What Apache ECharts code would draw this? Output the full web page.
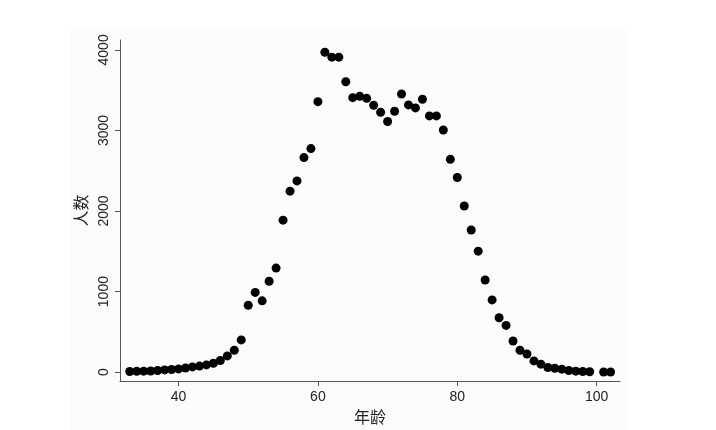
<!DOCTYPE html>
<html>
<head>
<meta charset="utf-8">
<script src="https://cdn.jsdelivr.net/npm/echarts@6/dist/echarts.min.js"></script>
<style>
html,body{margin:0;padding:0;background:#fff;}
#chart{width:716px;height:430px;}
</style>
</head>
<body>
<div id="chart"></div>
<script>
var ages = [33,34,35,36,37,38,39,40,41,42,43,44,45,46,47,48,49,50,51,52,53,54,55,56,57,58,59,60,61,62,63,64,65,66,67,68,69,70,71,72,73,74,75,76,77,78,79,80,81,82,83,84,85,86,87,88,89,90,91,92,93,94,95,96,97,98,99,101,102];
var counts = [8,10,12,15,20,28,33,40,52,65,75,90,110,144,202,272,400,830,990,885,1128,1292,1887,2247,2374,2663,2775,3358,3971,3910,3910,3605,3407,3424,3399,3313,3226,3111,3239,3453,3317,3280,3387,3181,3181,3006,2642,2416,2062,1765,1502,1144,897,675,580,387,272,226,140,99,58,49,37,21,12,8,5,2,2];
var xTicks = [40,60,80,100];
var yTicks = [0,1000,2000,3000,4000];
var xName = '年龄';
var yName = '人数';

var points = ages.map(function(a,i){return [a, counts[i]];});
var chart = echarts.init(document.getElementById('chart'));
var axisColor = '#555';
var txt = '#222';
chart.setOption({
  backgroundColor: '#ffffff',
  animation: false,
  graphic: [{
    type: 'rect', z: -10, silent: true,
    shape: {x: 70, y: 29, width: 558, height: 401},
    style: {fill: '#fcfcfc'}
  }],
  grid: {left: 120, right: 96, top: 40, bottom: 47},
  xAxis: {
    type: 'value', min: 31.6, max: 103.35,
    name: xName, nameLocation: 'middle', nameGap: 26,
    nameTextStyle: {fontSize: 16, color: txt, fontFamily: 'Noto Sans CJK SC'},
    axisLine: {show: true, onZero: false, lineStyle: {color: axisColor, width: 1}},
    axisTick: {show: true, length: 5, customValues: xTicks, lineStyle: {color: axisColor}},
    axisLabel: {customValues: xTicks, fontSize: 14, color: txt, fontFamily: 'Liberation Sans', margin: 9,
      formatter: function(v){return String(v);}},
    splitLine: {show: false}
  },
  yAxis: {
    type: 'value', min: -111, max: 4123,
    name: yName, nameLocation: 'middle', nameGap: 26, nameRotate: 90,
    nameTextStyle: {fontSize: 16, color: txt, fontFamily: 'Noto Sans CJK SC'},
    axisLine: {show: true, onZero: false, lineStyle: {color: axisColor, width: 1}},
    axisTick: {show: true, length: 5, customValues: yTicks, lineStyle: {color: axisColor}},
    axisLabel: {customValues: yTicks, rotate: 90, fontSize: 14, color: txt, fontFamily: 'Liberation Sans', margin: 9,
      formatter: function(v){return String(v);}},
    splitLine: {show: false}
  },
  series: [{
    type: 'scatter',
    data: points,
    symbol: 'circle',
    symbolSize: 9,
    itemStyle: {color: '#000', opacity: 1}
  }]
});
</script>
</body>
</html>
